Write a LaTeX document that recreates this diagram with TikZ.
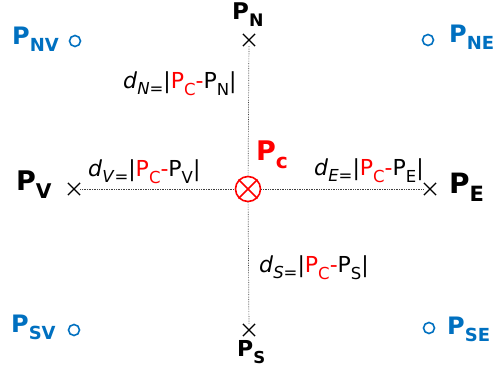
\documentclass[tikz,border=0pt]{standalone}
\usepackage{fontspec}
\setmainfont{DejaVu Sans}
\usetikzlibrary{shapes.misc}
\definecolor{pblue}{RGB}{0,112,192}
\definecolor{pred}{RGB}{255,0,0}
\newcommand{\psub}[2]{#1\raisebox{-.28em}{\scalebox{.75}{#2}}}
\newcommand{\dist}[1]{\textit{d}\raisebox{-.25em}{\scalebox{.75}{\textit{#1}=}}|{\color{pred}\psub{P}{C}-}\psub{P}{#1}|}
\tikzset{
  x=1pt,y=-1pt,
  pnt/.style={cross out,draw,line width=1.2pt,minimum size=11pt,inner sep=0pt},
  far/.style={circle,draw=pblue,line width=1.6pt,minimum size=11pt,inner sep=0pt},
  guide/.style={densely dotted,line width=0.7pt,black!75},
  lbl/.style={anchor=base west,inner sep=0pt,font=\fontsize{#1}{#1}\selectfont\bfseries},
  lbl/.default=20,
  dst/.style={anchor=base west,inner sep=0pt,font=\fontsize{22}{24}\selectfont},
}
\begin{document}
\begin{tikzpicture}
  \useasboundingbox (0,0) rectangle (496,374);
  % centre point
  \node[circle,draw=pred,line width=1.6pt,minimum size=25pt,inner sep=0pt] (pc) at (248,189) {};
  \draw[pred,line width=1.6pt] (pc.north west) -- (pc.south east) (pc.north east) -- (pc.south west);
  \node[lbl=27,text=pred] (pclab) at (256,161) {\psub{P}{c}};
  % neighbours
  \node[pnt] (pn) at (249,40) {};
  \node[pnt] (ps) at (249,330) {};
  \node[pnt] (pv) at (74,189) {};
  \node[pnt] (pe) at (430,189) {};
  \draw[guide] (pn) -- (pc);
  \draw[guide] (pc) -- (ps);
  \draw[guide] (pv) -- (pc);
  \draw[guide] (pc) -- (pe);
  \node[lbl=23] (pnlab) at (232,20) {\psub{P}{N}};
  \node[lbl=22] (pslab) at (237,357) {\psub{P}{S}};
  \node[lbl=27] (pvlab) at (16,191) {\psub{P}{V}};
  \node[lbl=28] (pelab) at (449,194) {\psub{P}{E}};
  % distances
  \node[dst] (dn) at (123,89) {\dist{N}};
  \node[dst] (dv) at (88,177) {\dist{V}};
  \node[dst] (de) at (314,176) {\dist{E}};
  \node[dst] (ds) at (259,273) {\dist{S}};
  % diagonal points
  \node[far] (pnv) at (75,41) {};
  \node[far] (pne) at (428,40) {};
  \node[far] (psv) at (74,330) {};
  \node[far] (pse) at (429,328) {};
  \node[lbl=24,text=pblue] (pnvlab) at (12,45) {\psub{P}{NV}};
  \node[lbl=24,text=pblue] (pnelab) at (449,43) {\psub{P}{NE}};
  \node[lbl=24,text=pblue] (psvlab) at (11,333) {\psub{P}{SV}};
  \node[lbl=24,text=pblue] (pselab) at (447,335) {\psub{P}{SE}};
\end{tikzpicture}
\end{document}
